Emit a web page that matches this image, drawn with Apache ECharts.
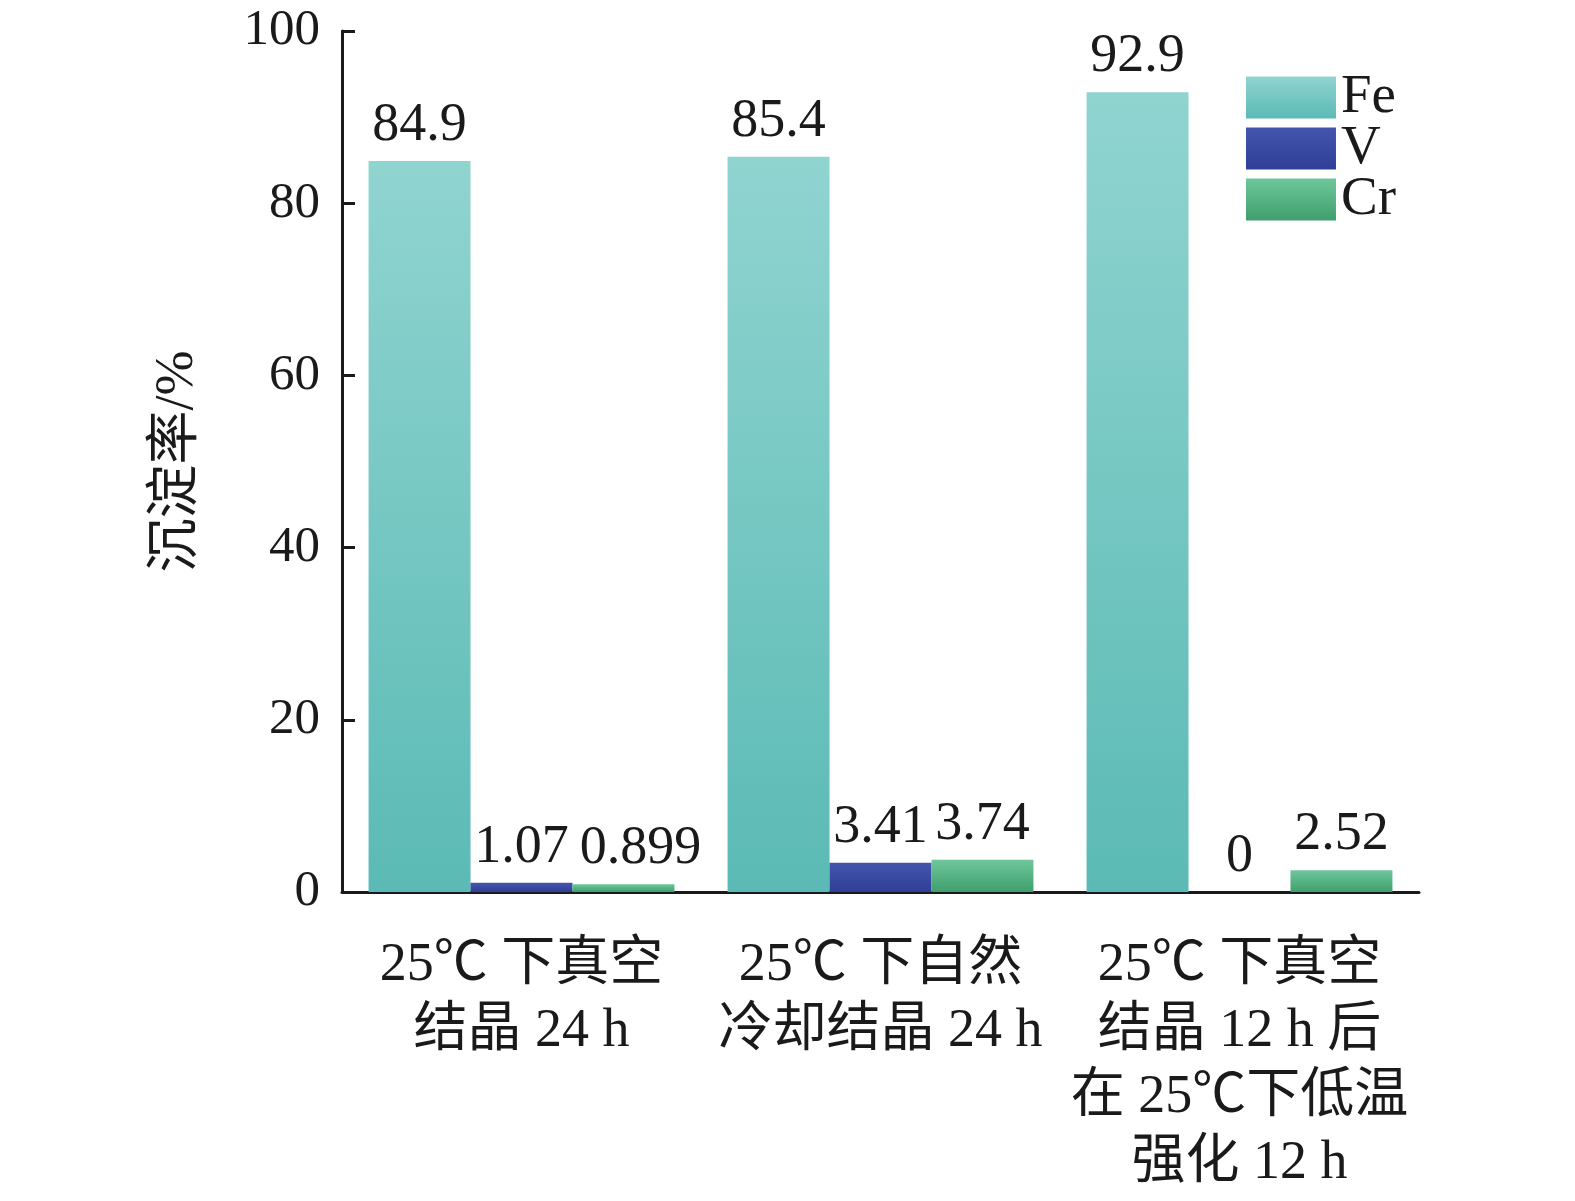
<!DOCTYPE html>
<html><head><meta charset="utf-8">
<script src="https://cdn.jsdelivr.net/npm/echarts@6/dist/echarts.min.js"></script>
<style>html,body{margin:0;padding:0;background:#fff;overflow:hidden;width:100%;height:100%}#c{width:100vw;height:100vh;position:absolute;left:0;top:0}</style>
</head><body><div id="c"></div>
<script>
const categories = ["25℃ 下真空\n结晶 24 h", "25℃ 下自然\n冷却结晶 24 h", "25℃ 下真空\n结晶 12 h 后\n在 25℃下低温\n强化 12 h"];
const feValues = [84.9, 85.4, 92.9];
const vValues = [1.07, 3.41, 0];
const crValues = [0.899, 3.74, 2.52];
const yTicks = [0, 20, 40, 60, 80, 100];

const FONT = '"Liberation Serif", "Times New Roman", "Noto Sans CJK SC", serif';
function grad(top, bottom) {
  return new echarts.graphic.LinearGradient(0, 0, 0, 1, [{offset: 0, color: top}, {offset: 1, color: bottom}]);
}
const colFe = grad('#90d4d0', '#5bbab5');
const colV = grad('#4455ad', '#2f3f98');
const colCr = grad('#6ec79c', '#3f9f6c');

const labelCfg = {
  show: true, position: 'top', distance: 8,
  fontFamily: FONT, fontSize: 54, color: '#1a1a1a',
  formatter: p => String(p.value)
};
// first Cr label is nudged right in the original to avoid overlapping the V label
const crData = crValues.map((v, i) => i === 0 ? {value: v, label: {offset: [17, 0]}} : v);

const chart = echarts.init(document.getElementById('c'));
chart.setOption({
  animation: false,
  backgroundColor: '#fff',
  grid: {left: '21.714%', top: '2.581%', right: '9.905%', bottom: '25.729%', containLabel: false, outerBoundsMode: 'none'},
  legend: {
    left: '79.11%', top: '5.83%', orient: 'vertical',
    itemWidth: 90, itemHeight: 42, itemGap: -4,
    icon: 'rect', padding: 0,
    textStyle: {fontFamily: FONT, fontSize: 55, color: '#1a1a1a'},
    data: ['Fe', 'V', 'Cr']
  },
  xAxis: {
    type: 'category', data: categories,
    axisLine: {lineStyle: {color: '#1a1a1a', width: 3}},
    axisTick: {show: false},
    axisLabel: {fontFamily: FONT, fontSize: 54, color: '#1a1a1a', lineHeight: 66, margin: 41, interval: 0}
  },
  yAxis: {
    type: 'value', min: yTicks[0], max: yTicks[yTicks.length - 1], interval: 20,
    name: '沉淀率/%', nameLocation: 'middle', nameGap: 137, nameRotate: 90,
    nameTextStyle: {fontFamily: FONT, fontSize: 54, color: '#1a1a1a'},
    axisLine: {show: true, lineStyle: {color: '#1a1a1a', width: 3}},
    axisTick: {show: true, inside: true, length: 13, lineStyle: {color: '#1a1a1a', width: 3}},
    splitLine: {show: false},
    axisLabel: {fontFamily: FONT, fontSize: 51, color: '#1a1a1a', margin: 22}
  },
  series: [
    {name: 'Fe', type: 'bar', data: feValues, barGap: '0%', barCategoryGap: '14.8%', itemStyle: {color: colFe}, label: labelCfg},
    {name: 'V', type: 'bar', data: vValues, barGap: '0%', barCategoryGap: '14.8%', itemStyle: {color: colV}, label: labelCfg},
    {name: 'Cr', type: 'bar', data: crData, barGap: '0%', barCategoryGap: '14.8%', itemStyle: {color: colCr}, label: labelCfg}
  ]
});
</script></body></html>
